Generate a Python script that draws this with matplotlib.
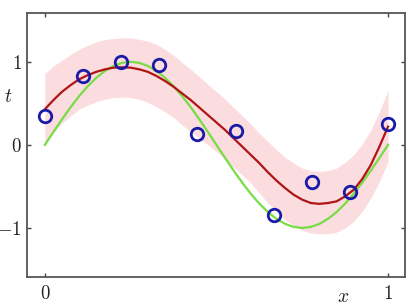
import matplotlib
matplotlib.use("Agg")
import matplotlib.pyplot as plt

# observed data points
x_pts = [0.0, 0.111, 0.222, 0.333, 0.444, 0.556, 0.667, 0.778, 0.889, 1.0]
t_pts = [0.35, 0.83, 1.00, 0.96, 0.13, 0.17, -0.84, -0.45, -0.57, 0.25]

# curves, every 0.025 in x
x_curve = [0.0, 0.025, 0.05, 0.075, 0.1, 0.125, 0.15, 0.175, 0.2, 0.225,
           0.25, 0.275, 0.3, 0.325, 0.35, 0.375, 0.4, 0.425, 0.45, 0.475,
           0.5, 0.525, 0.55, 0.575, 0.6, 0.625, 0.65, 0.675, 0.7, 0.725,
           0.75, 0.775, 0.8, 0.825, 0.85, 0.875, 0.9, 0.925, 0.95, 0.975, 1.0]
true_t = [0.0, 0.156, 0.309, 0.454, 0.588, 0.707, 0.809, 0.891, 0.951, 0.988,
          1.0, 0.988, 0.951, 0.891, 0.809, 0.707, 0.588, 0.454, 0.309, 0.156,
          0.0, -0.156, -0.309, -0.454, -0.588, -0.707, -0.809, -0.891, -0.951, -0.988,
          -1.0, -0.988, -0.951, -0.891, -0.809, -0.707, -0.588, -0.454, -0.309, -0.156, 0.0]
mean_t = [0.43, 0.54, 0.64, 0.72, 0.79, 0.84, 0.88, 0.91, 0.93, 0.935,
          0.93, 0.91, 0.88, 0.83, 0.77, 0.70, 0.62, 0.54, 0.45, 0.36,
          0.27, 0.18, 0.08, -0.02, -0.12, -0.22, -0.33, -0.43, -0.52, -0.60,
          -0.66, -0.70, -0.71, -0.70, -0.68, -0.62, -0.54, -0.41, -0.24, -0.02, 0.22]
upper_t = [0.86, 0.95, 1.02, 1.09, 1.15, 1.20, 1.24, 1.27, 1.28, 1.29,
           1.29, 1.27, 1.25, 1.21, 1.15, 1.08, 0.99, 0.91, 0.82, 0.73,
           0.64, 0.55, 0.45, 0.35, 0.25, 0.14, 0.04, -0.06, -0.15, -0.22,
           -0.28, -0.31, -0.32, -0.31, -0.28, -0.21, -0.12, 0.01, 0.18, 0.40, 0.66]
lower_t = [0.02, 0.15, 0.26, 0.35, 0.43, 0.48, 0.52, 0.55, 0.57, 0.575,
           0.57, 0.55, 0.51, 0.46, 0.40, 0.33, 0.24, 0.16, 0.08, 0.0,
           -0.08, -0.17, -0.27, -0.36, -0.46, -0.58, -0.70, -0.80, -0.90, -0.97,
           -1.03, -1.06, -1.07, -1.07, -1.05, -1.00, -0.92, -0.80, -0.64, -0.44, -0.20]

plt.rcParams['font.family'] = ['Liberation Serif', 'DejaVu Serif']
plt.rcParams['mathtext.fontset'] = 'cm'

fig = plt.figure(figsize=(4.16, 3.06), dpi=100)
ax = fig.add_axes([0.065, 0.095, 0.909, 0.863])

# predictive band, true curve, predictive mean, data
ax.fill_between(x_curve, lower_t, upper_t, color='#fbdcdf', linewidth=0)
ax.plot(x_curve, true_t, color='#77dd44', linewidth=1.6)
ax.plot(x_curve, mean_t, color='#b01515', linewidth=1.6)
ax.plot(x_pts, t_pts, 'o', markerfacecolor='none', markeredgecolor='#1a1aa8',
        markersize=9, markeredgewidth=2)

ax.set_xlim(-0.052, 1.05)
ax.set_ylim(-1.59, 1.59)
ax.set_xticks([0, 1])
ax.set_yticks([-1, 0, 1])
ax.set_xticklabels(['$0$', '$1$'])
ax.set_yticklabels(['$-1$', '$0$', '$1$'])
ax.tick_params(direction='in', length=3, width=1, top=True, right=True,
               labelsize=13.5, colors='#444444', labelcolor='#222222', pad=6)
ax.tick_params(axis='y', pad=4)
for s in ax.spines.values():
    s.set_color('#555555')
    s.set_linewidth(1.3)

ax.text(-0.05, 0.68, '$t$', transform=ax.transAxes, fontsize=14,
        ha='center', va='center', color='#222222')
ax.text(0.836, -0.078, '$x$', transform=ax.transAxes, fontsize=14,
        ha='center', va='center', color='#222222')

fig.savefig('out.png', dpi=100)
